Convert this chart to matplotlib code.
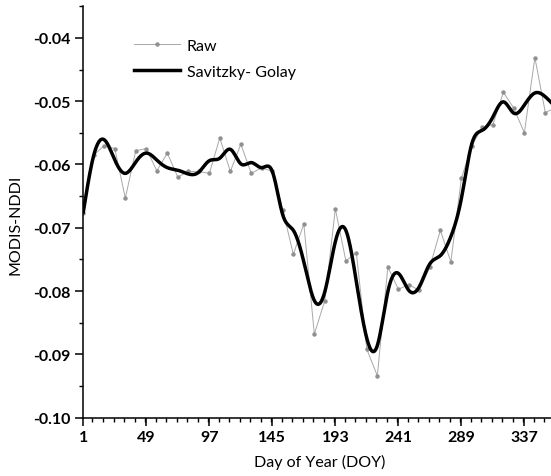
import numpy as np
import matplotlib
matplotlib.use("Agg")
import matplotlib.pyplot as plt
from matplotlib.ticker import MultipleLocator, FixedLocator

plt.rcParams['font.family'] = ['Lato', 'DejaVu Sans']

doy = list(range(1, 362, 8))

raw = [-0.0676, -0.0585, -0.0570, -0.0575, -0.0653, -0.0578, -0.0575, -0.0610,
       -0.0582, -0.0620, -0.0611, -0.0611, -0.0614, -0.0558, -0.0611, -0.0568,
       -0.0614, -0.0605, -0.0611, -0.0672, -0.0742, -0.0694, -0.0868, -0.0815,
       -0.0670, -0.0752, -0.0740, -0.0892, -0.0934, -0.0762, -0.0797, -0.0790,
       -0.0799, -0.0762, -0.0704, -0.0754, -0.0622, -0.0570, -0.0541, -0.0537,
       -0.0486, -0.0511, -0.0550, -0.0431, -0.0518, -0.0510]

sg = [-0.0675, -0.0585, -0.0561, -0.0593, -0.0614, -0.0596, -0.0582, -0.0593,
      -0.0605, -0.0609, -0.0615, -0.0612, -0.0594, -0.0590, -0.0576, -0.0599,
      -0.0597, -0.0605, -0.0611, -0.0680, -0.0704, -0.0754, -0.0815, -0.0801,
      -0.0722, -0.0704, -0.0785, -0.0875, -0.0886, -0.0801, -0.0772, -0.0799,
      -0.0793, -0.0757, -0.0744, -0.0714, -0.0654, -0.0567, -0.0546, -0.0525,
      -0.0501, -0.0519, -0.0506, -0.0487, -0.0493, -0.0510]

xticks = [1, 49, 97, 145, 193, 241, 289, 337]
yticks = [-0.10, -0.09, -0.08, -0.07, -0.06, -0.05, -0.04]


def natural_spline(x, y, n=1200):
    x = np.asarray(x, float); y = np.asarray(y, float)
    k = len(x); h = np.diff(x)
    A = np.zeros((k, k)); b = np.zeros(k)
    A[0, 0] = A[-1, -1] = 1
    for i in range(1, k - 1):
        A[i, i - 1] = h[i - 1]; A[i, i] = 2 * (h[i - 1] + h[i]); A[i, i + 1] = h[i]
        b[i] = 6 * ((y[i + 1] - y[i]) / h[i] - (y[i] - y[i - 1]) / h[i - 1])
    M = np.linalg.solve(A, b)
    xs = np.linspace(x[0], x[-1], n)
    idx = np.clip(np.searchsorted(x, xs) - 1, 0, k - 2)
    x0, x1 = x[idx], x[idx + 1]; hh = x1 - x0
    ys = (M[idx] * (x1 - xs) ** 3 / (6 * hh) + M[idx + 1] * (xs - x0) ** 3 / (6 * hh)
          + (y[idx] / hh - M[idx] * hh / 6) * (x1 - xs)
          + (y[idx + 1] / hh - M[idx + 1] * hh / 6) * (xs - x0))
    return xs, ys


fig = plt.figure(figsize=(5.51, 4.77), dpi=100)
ax = fig.add_axes([0.1512, 0.1224, 0.8488, 0.8623])

ax.plot(doy, raw, color='#a8a8a8', lw=0.7, marker='o', ms=2.2,
        mfc='#909090', mec='#909090', label='Raw', zorder=2)
xs, ys = natural_spline(doy, sg)
ax.plot(xs, ys, color='black', lw=2.5, label='Savitzky- Golay', zorder=3)

ax.set_xlim(1, 357.3)
ax.set_ylim(-0.10, -0.035)

ax.xaxis.set_major_locator(FixedLocator(xticks))
ax.xaxis.set_minor_locator(MultipleLocator(8))
ax.set_xticklabels([str(t) for t in xticks])
ax.yaxis.set_major_locator(FixedLocator(yticks))
ax.yaxis.set_minor_locator(MultipleLocator(0.005))
ax.set_yticklabels([f"{t:.2f}" for t in yticks])

for s in ['top', 'right']:
    ax.spines[s].set_visible(False)
for s in ['left', 'bottom']:
    ax.spines[s].set_linewidth(1.1)

ax.tick_params(which='major', direction='out', length=6, width=1.1,
               labelsize=11.5, pad=3)
ax.tick_params(which='minor', direction='out', length=3, width=1.0)
for lab in ax.get_xticklabels() + ax.get_yticklabels():
    lab.set_fontweight('bold')

ax.set_xlabel('Day of Year (DOY)', fontsize=11.5)
ax.set_ylabel('MODIS-NDDI', fontsize=11.5)
ax.xaxis.set_label_coords(0.506, -0.088)
ax.yaxis.set_label_coords(-0.129, 0.47)

ax.legend(loc='upper left', bbox_to_anchor=(0.108, 0.922), frameon=False,
          fontsize=11.5, numpoints=1, handlelength=2.9, handletextpad=0.4,
          borderpad=0, borderaxespad=0, labelspacing=0.75)

fig.savefig('out.png', dpi=100)
